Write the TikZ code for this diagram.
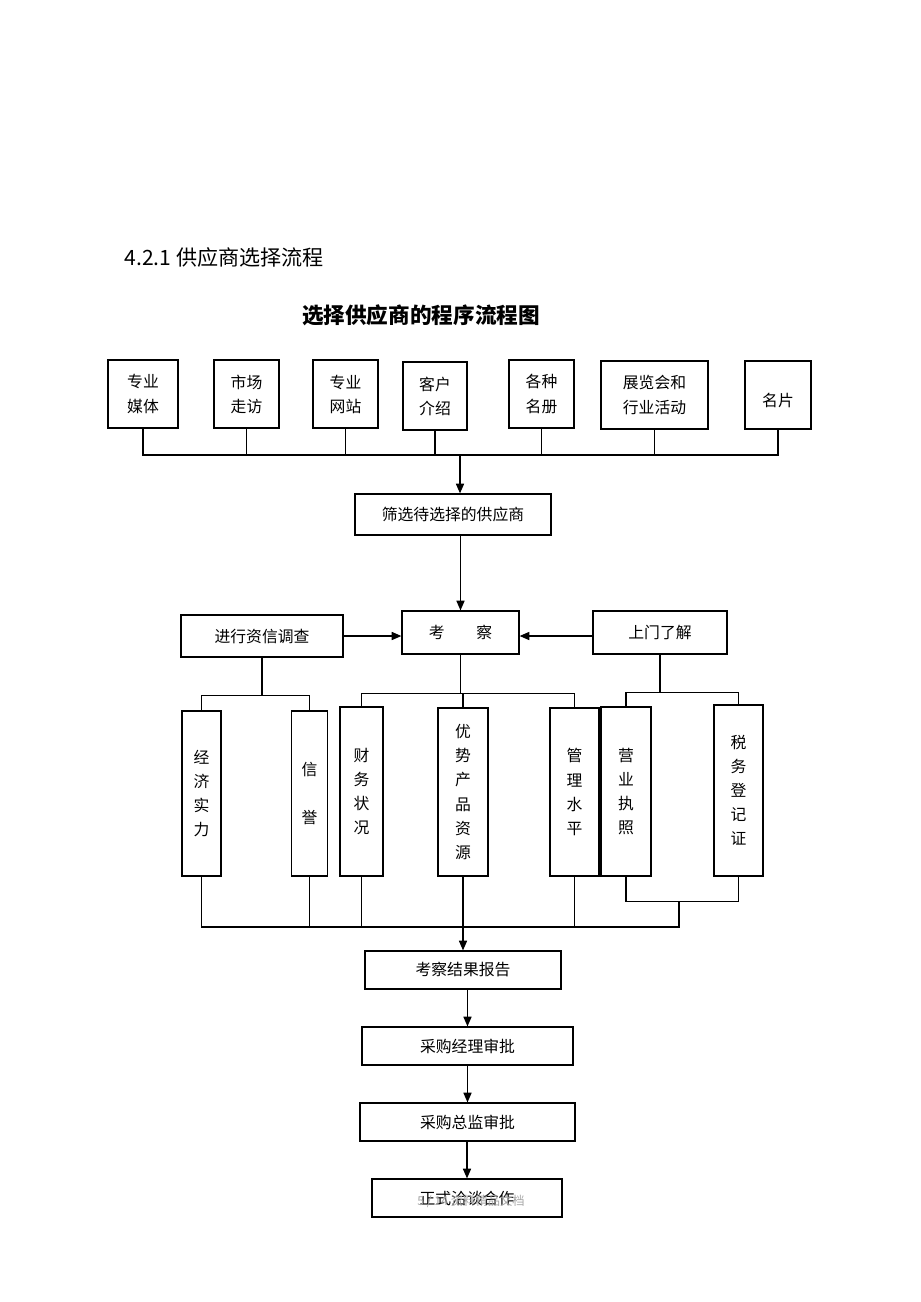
\documentclass[tikz,border=0pt]{standalone}
\usepackage{fontspec}
\newfontfamily\cjk{Noto Sans CJK SC}
\usetikzlibrary{arrows.meta}
\newlength\px
\setlength\px{0.02cm}

\begin{document}
\begin{tikzpicture}[x=0.02cm, y=-0.02cm, line width=0.7pt,
  box/.style={draw, inner sep=0pt, align=center, font=\cjk\fontsize{9pt}{13.7pt}\selectfont},
  arr/.style={-{Triangle[length=5.5pt, width=4.6pt]}}]
  \useasboundingbox (0,0) rectangle (920,1302);
  \node[anchor=west, font=\cjk\fontsize{12pt}{14pt}\selectfont] (head) at (118,257) {4.2.1 供应商选择流程};
  \node[font=\cjk\bfseries\fontsize{12.3pt}{14pt}\selectfont] (title) at (421,315) {选择供应商的程序流程图};
  \node[box, minimum width=70\px, minimum height=68\px] (media) at (143,394) {专业\\媒体};
  \node[box, minimum width=65\px, minimum height=68\px] (market) at (246.5,394) {市场\\走访};
  \node[box, minimum width=65\px, minimum height=68\px] (website) at (345.5,394) {专业\\网站};
  \node[box, minimum width=64\px, minimum height=68\px] (referral) at (435,396) {客户\\介绍};
  \node[box, minimum width=65\px, minimum height=68\px] (directory) at (541.5,394) {各种\\名册};
  \node[box, minimum width=107\px, minimum height=68\px] (expo) at (654.5,395) {展览会和\\行业活动};
  \node[box, minimum width=66\px, minimum height=68\px] (card) at (778,395) {\mbox{}\\名片};
  \coordinate (bus) at (460,455);
  \foreach \n in {media,market,website,referral,directory,expo,card}
    \draw (\n.south) |- (bus);
  \node[box, minimum width=196\px, minimum height=41\px] (screen) at (453,514.5) {筛选待选择的供应商};
  \draw[arr] (bus) -- (bus |- screen.north);
  \node[box, minimum width=117\px, minimum height=43\px] (inspect) at (460.5,632.5) {考\hspace{2em}察};
  \node[box, minimum width=162\px, minimum height=42\px] (credit) at (262,636) {进行资信调查};
  \node[box, minimum width=134\px, minimum height=43\px] (visit) at (660,632.5) {上门了解};
  \draw[arr] (inspect |- screen.south) -- (inspect.north);
  \draw[arr] (credit.east) -- (credit.east -| inspect.west);
  \draw[arr] (visit.west |- credit.east) -- (credit.east -| inspect.east);
  \node[box, minimum width=39\px, minimum height=165\px] (econ) at (201.5,793.5) {经\\济\\实\\力};
  \node[box, minimum width=36\px, minimum height=165\px] (repute) at (309.5,793.5) {信\\[13.7pt]誉};
  \node[box, minimum width=43\px, minimum height=169\px] (finance) at (361.5,791.5) {财\\务\\状\\况};
  \node[box, minimum width=50\px, minimum height=168\px] (product) at (463,792) {优\\势\\产\\品\\资\\源};
  \node[box, minimum width=49\px, minimum height=168\px] (manage) at (574.5,792) {管\\理\\水\\平};
  \node[box, minimum width=50\px, minimum height=169\px] (license) at (626,791.5) {营\\业\\执\\照};
  \node[box, minimum width=49\px, minimum height=171\px] (tax) at (738.5,790.5) {税\\务\\登\\记\\证};
  \draw (credit.south) -- ++(0,38) coordinate (cb);
  \draw (econ.north) |- (cb) -| (repute.north);
  \draw (inspect.south) -- ++(0,39) coordinate (ib);
  \draw (finance.north) |- (ib) -| (manage.north);
  \draw (product.north) -- (product.north |- ib);
  \draw (visit.south) -- ++(0,38) coordinate (vb);
  \draw (license.north) |- (vb) -| (tax.north);
  \draw (license.south) -- ++(0,25) coordinate (lt) -| (tax.south);
  \coordinate (sm) at (679,901);
  \coordinate (bb) at (463,927);
  \foreach \n in {econ,repute,finance,manage}
    \draw (\n.south) |- (bb);
  \draw (sm) |- (bb);
  \node[box, minimum width=196\px, minimum height=38\px] (report) at (463,970) {考察结果报告};
  \node[box, minimum width=211\px, minimum height=38\px] (mgrok) at (467.5,1046) {采购经理审批};
  \node[box, minimum width=215\px, minimum height=38\px] (dirok) at (467.5,1122) {采购总监审批};
  \node[box, minimum width=190\px, minimum height=38\px] (deal) at (467,1198) {正式洽谈合作};
  \draw[arr] (product.south) -- (report.north);
  \draw[arr] (report.south -| mgrok.north) -- (mgrok.north);
  \draw[arr] (mgrok.south -| dirok.north) -- (dirok.north);
  \draw[arr] (dirok.south -| deal.north) -- (deal.north);
  \node[font=\cjk\fontsize{7pt}{8pt}\selectfont, text=gray!70] (mark) at (471,1201) {5 / 14 资料精品文档};
\end{tikzpicture}
\end{document}
